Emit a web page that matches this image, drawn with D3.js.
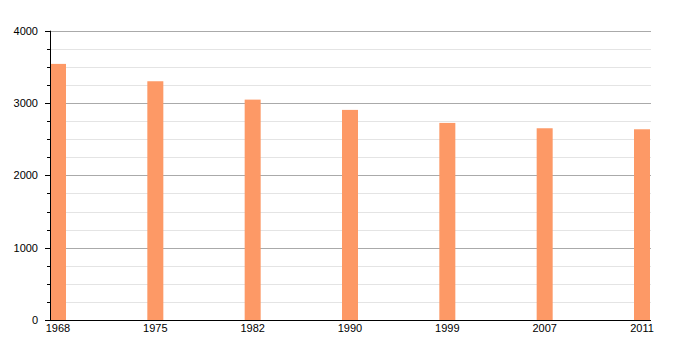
<!DOCTYPE html>
<html>
<head>
<meta charset="utf-8">
<script src="https://cdn.jsdelivr.net/npm/d3@7"></script>
<style>
    body { margin: 0; background: #fff; }
    text { font-family: "Liberation Sans", Arial, sans-serif; font-size: 11px; fill: #000; }
</style>
</head>
<body>
<script>
(function(){

    var years = ["1968", "1975", "1982", "1990", "1999", "2007", "2011"];
    var population = [3541, 3301, 3047, 2905, 2725, 2651, 2637];
    var majorTicks = [0, 1000, 2000, 3000, 4000];
    var minorTicks = d3.range(0, 4001, 250);

    window.onload = drawChart();

    function drawChart() {
        var width = 700,
            height = 350;
        var left = 50, right = 651, top = 30.7, bottom = 320;
        var barWidth = 16;

        var svg = d3.select("body")
            .append("svg")
            .attr("width", width)
            .attr("height", height);

        var x = d3.scalePoint()
            .domain(years)
            .range([left + barWidth / 2, right - 1 - barWidth / 2]);

        var y = d3.scaleLinear()
            .domain([0, 4000])
            .range([bottom, top]);

        // minor grid
        svg.selectAll(".minorGrid")
            .data(minorTicks.filter(function(d){ return d % 1000 != 0; }))
            .enter()
            .append("line")
            .attr("class", "minorGrid")
            .attr("x1", left)
            .attr("x2", right)
            .attr("y1", function(d){ return Math.round(y(d)) + 0.5; })
            .attr("y2", function(d){ return Math.round(y(d)) + 0.5; })
            .attr("stroke", "#e4e4e4")
            .attr("stroke-width", 1);

        // major grid
        svg.selectAll(".majorGrid")
            .data(majorTicks.filter(function(d){ return d > 0; }))
            .enter()
            .append("line")
            .attr("class", "majorGrid")
            .attr("x1", left)
            .attr("x2", right)
            .attr("y1", function(d){ return Math.round(y(d)) + 0.5; })
            .attr("y2", function(d){ return Math.round(y(d)) + 0.5; })
            .attr("stroke", "#aaaaaa")
            .attr("stroke-width", 1);

        // bars
        svg.selectAll(".bar")
            .data(population)
            .enter()
            .append("rect")
            .attr("class", "bar")
            .attr("x", function(d, i){ return x(years[i]) - barWidth / 2; })
            .attr("y", function(d){ return y(d); })
            .attr("width", barWidth)
            .attr("height", function(d){ return bottom - y(d); })
            .attr("fill", "#fd9966");

        // y axis
        var yAxis = svg.append("g")
            .attr("transform", "translate(" + left + ",0)");

        yAxis.selectAll(".minorTick")
            .data(minorTicks)
            .enter()
            .append("line")
            .attr("x1", -3)
            .attr("x2", 0)
            .attr("y1", function(d){ return Math.round(y(d)) + 0.5; })
            .attr("y2", function(d){ return Math.round(y(d)) + 0.5; })
            .attr("stroke", "#000");

        yAxis.selectAll(".majorTick")
            .data(majorTicks)
            .enter()
            .append("line")
            .attr("x1", -5)
            .attr("x2", 0)
            .attr("y1", function(d){ return Math.round(y(d)) + 0.5; })
            .attr("y2", function(d){ return Math.round(y(d)) + 0.5; })
            .attr("stroke", "#000");

        yAxis.selectAll(".yLabel")
            .data(majorTicks)
            .enter()
            .append("text")
            .attr("x", -12)
            .attr("y", function(d){ return y(d); })
            .attr("dy", "0.35em")
            .attr("text-anchor", "end")
            .text(function(d){ return d; });

        yAxis.append("line")
            .attr("x1", 0.5)
            .attr("x2", 0.5)
            .attr("y1", top)
            .attr("y2", bottom)
            .attr("stroke", "#000");

        // x axis
        svg.append("line")
            .attr("x1", left)
            .attr("x2", right)
            .attr("y1", bottom + 0.5)
            .attr("y2", bottom + 0.5)
            .attr("stroke", "#000")
            .attr("stroke-width", 1.2);

        svg.selectAll(".xLabel")
            .data(years)
            .enter()
            .append("text")
            .attr("x", function(d){ return x(d); })
            .attr("y", bottom + 12)
            .attr("text-anchor", "middle")
            .text(function(d){ return d; });
    };

})();
</script>
</body>
</html>
